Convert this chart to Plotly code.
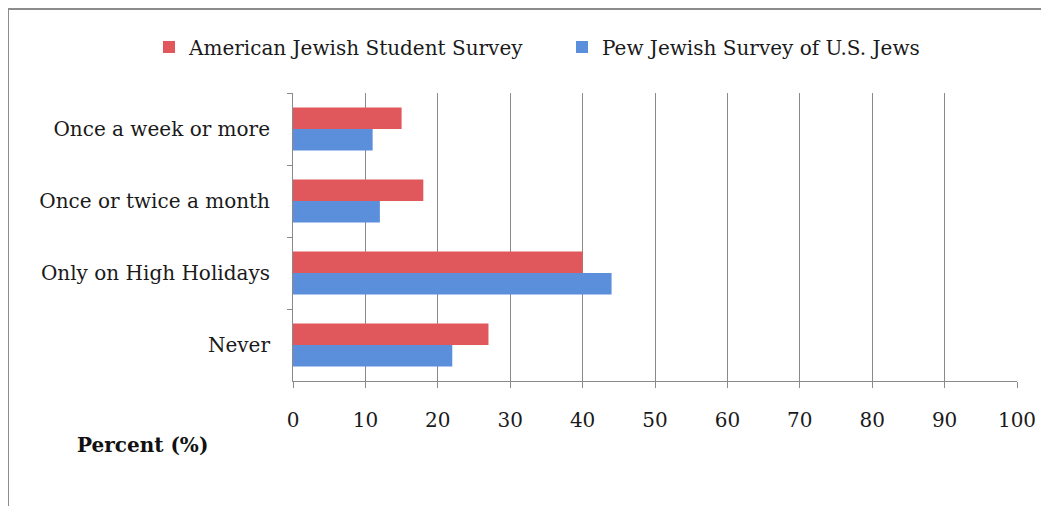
import plotly.graph_objects as go

categories = ["Once a week or more", "Once or twice a month", "Only on High Holidays", "Never"]
student_survey = [15, 18, 40, 27]
pew_survey = [11, 12, 44, 22]
series_names = ["American Jewish Student Survey", "Pew Jewish Survey of U.S. Jews"]
x_ticks = [0, 10, 20, 30, 40, 50, 60, 70, 80, 90, 100]
x_title = "Percent (%)"

FONT = "DejaVu Serif"
OFF = 8  # page body margin
W, H = 1041, 498
L, R, T, B = 285, 32, 85, 125
pw, ph = W - L - R, H - T - B

def px_x(px):
    return (px - OFF - L) / pw

def px_y(py):
    return (H - B - (py - OFF)) / ph

fig = go.Figure()
fig.add_trace(go.Bar(y=categories, x=student_survey, name=series_names[0], orientation="h",
                     marker=dict(color="#E0585B", line=dict(width=0))))
fig.add_trace(go.Bar(y=categories, x=pew_survey, name=series_names[1], orientation="h",
                     marker=dict(color="#5B8EDB", line=dict(width=0))))

fig.update_layout(
    width=W, height=H,
    margin=dict(l=L, r=R, t=T, b=B, autoexpand=False),
    paper_bgcolor="white", plot_bgcolor="white",
    barmode="group", bargap=0.4, bargroupgap=0.0,
    font=dict(family=FONT, size=20, color="#1a1a1a"),
    legend=dict(orientation="h", x=px_x(149), xanchor="left", y=px_y(47), yanchor="middle",
                font=dict(family=FONT, size=20), traceorder="normal", itemwidth=30,
                entrywidth=368, entrywidthmode="pixels", bgcolor="rgba(0,0,0,0)"),
    xaxis=dict(range=[0, 100], tickvals=x_ticks, showgrid=True, gridcolor="#8a8a8a", gridwidth=1,
               showline=True, linecolor="#8a8a8a", linewidth=1, ticks="outside", ticklen=6,
               tickcolor="#8a8a8a", ticklabelstandoff=15, zeroline=False, fixedrange=True),
    yaxis=dict(autorange="reversed", showline=True, linecolor="#8a8a8a", linewidth=1, ticks="outside",
               tickson="boundaries", ticklen=5, tickcolor="#8a8a8a", ticklabelstandoff=18,
               showgrid=False, fixedrange=True),
    annotations=[dict(text="<b>" + x_title + "</b>", xref="paper", yref="paper", x=px_x(142), y=px_y(445),
                      xanchor="center", yanchor="middle", showarrow=False,
                      font=dict(family=FONT, size=20, color="#111111"))],
    shapes=[dict(type="rect", xref="paper", yref="paper", x0=px_x(8), x1=px_x(1070), y0=px_y(530), y1=px_y(9),
                 line=dict(color="#8c8c8c", width=2), fillcolor="rgba(0,0,0,0)", layer="below")],
)

fig.write_html("out.html")
